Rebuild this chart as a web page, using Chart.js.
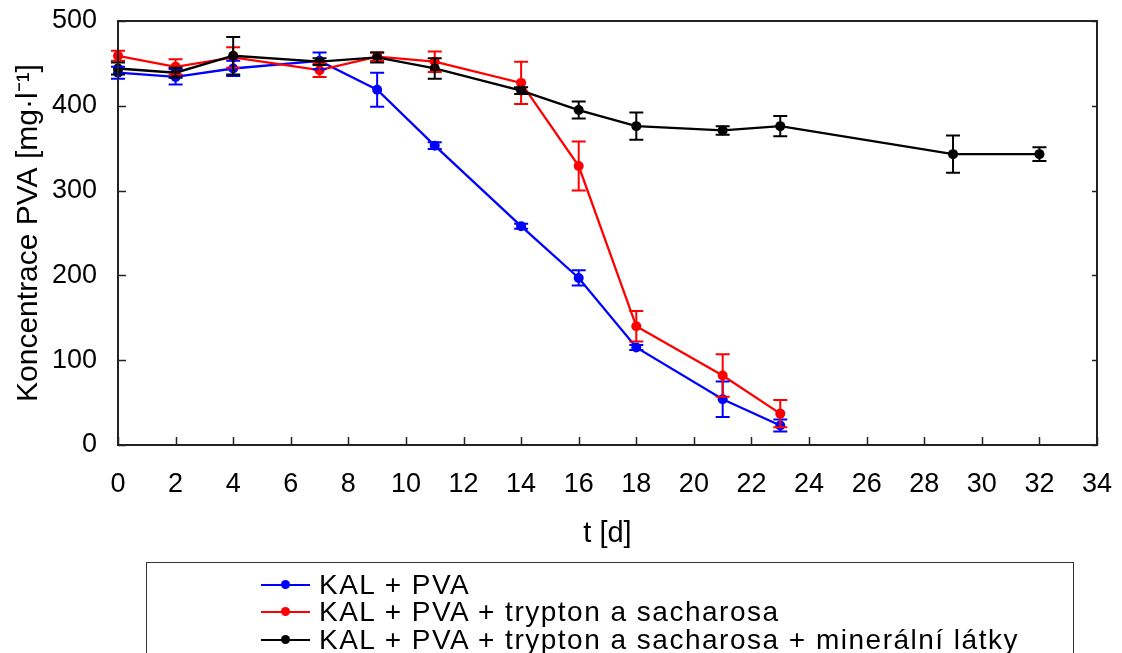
<!DOCTYPE html>
<html lang="cs">
<head>
<meta charset="UTF-8">
<title>Koncentrace PVA</title>
<script src="https://cdn.jsdelivr.net/npm/chart.js"></script>
<style>
  html, body { margin: 0; padding: 0; background: #fff; }
  .wrap { position: relative; width: 1122px; height: 653px; overflow: hidden; }
  .legend_box {
    position: absolute; left: 146px; top: 562px; width: 928px; height: 120px;
    border: 1px solid #333; box-sizing: border-box;
    font-family: 'Liberation Sans', Arial, sans-serif; font-size: 28px; letter-spacing: 1.5px; color: #000;
  }
  .legend_row { position: absolute; left: 114px; height: 28px; line-height: 28px; white-space: nowrap; }
  .swatch { position: absolute; left: 0; top: 13px; width: 49px; height: 2px; }
  .swatch i { position: absolute; left: 20px; top: -4px; width: 9px; height: 9px; border-radius: 50%; }
  .legend_row span.txt { position: absolute; left: 58px; top: 0; }
</style>
</head>
<body>
<div class="wrap">
  <canvas id="chart" width="1122" height="653"></canvas>
  <div class="legend_box" id="legend"></div>
</div>
<script>
// time points [d]
const tKal = [0, 2, 4, 7, 9, 11, 14, 16, 18, 21, 23];
const tTryp = [0, 2, 4, 7, 9, 11, 14, 16, 18, 21, 23];
const tMin = [0, 2, 4, 7, 9, 11, 14, 16, 18, 21, 23, 29, 32];

// PVA concentration [mg/l] and error (+/-)
const kal = [439, 434, 444, 453, 419, 353, 258, 197, 115, 54, 23];
const kalErr = [7, 9, 9, 10, 20, 4, 3, 9, 3, 21, 7];
const tryp = [459, 446, 457, 442, 458, 452, 427, 329, 140, 82, 37];
const trypErr = [6, 9, 12, 8, 5, 12, 25, 29, 18, 25, 16];
const minr = [444, 439, 459, 452, 457, 444, 418, 395, 376, 371, 376, 343, 343];
const minErr = [7, 6, 22, 4, 6, 12, 4, 10, 16, 5, 12, 22, 8];

const names = [
  'KAL + PVA',
  'KAL + PVA + trypton a sacharosa',
  'KAL + PVA + trypton a sacharosa + minerální látky'
];
const colors = ['#0000ff', '#ff0000', '#000000'];

const FONT = "'Liberation Sans', Arial, sans-serif";

function pts(xs, ys) {
  return xs.map((x, i) => ({ x: x, y: ys[i] }));
}

function noPad(s) {
  s.paddingTop = 0; s.paddingBottom = 0; s.paddingLeft = 0; s.paddingRight = 0;
}

// error bars + frame + inner ticks
const extras = {
  id: 'extras',
  afterDatasetsDraw(chart) {
    const ctx = chart.ctx;
    const ys = chart.scales.y;
    chart.data.datasets.forEach((ds, i) => {
      const meta = chart.getDatasetMeta(i);
      ctx.save();
      ctx.strokeStyle = ds.borderColor;
      ctx.lineWidth = 2;
      meta.data.forEach((p, j) => {
        const v = ds.data[j].y, e = ds.errors[j];
        const top = ys.getPixelForValue(v + e);
        const bot = ys.getPixelForValue(v - e);
        ctx.beginPath();
        ctx.moveTo(p.x, top); ctx.lineTo(p.x, bot);
        ctx.moveTo(p.x - 7, top); ctx.lineTo(p.x + 7, top);
        ctx.moveTo(p.x - 7, bot); ctx.lineTo(p.x + 7, bot);
        ctx.stroke();
      });
      ctx.restore();
    });
  },
  afterDraw(chart) {
    const ctx = chart.ctx;
    const a = chart.chartArea;
    const xs = chart.scales.x, ys = chart.scales.y;
    ctx.save();
    ctx.strokeStyle = '#222';
    ctx.lineWidth = 1.5;
    xs.ticks.forEach(t => {
      const px = Math.round(xs.getPixelForValue(t.value)) + 0.5;
      ctx.beginPath(); ctx.moveTo(px, a.bottom); ctx.lineTo(px, a.bottom - 8); ctx.stroke();
    });
    ys.ticks.forEach(t => {
      const py = Math.round(ys.getPixelForValue(t.value)) + 0.5;
      ctx.beginPath(); ctx.moveTo(a.left, py); ctx.lineTo(a.left + 8, py); ctx.stroke();
      ctx.beginPath(); ctx.moveTo(a.right, py); ctx.lineTo(a.right - 5, py); ctx.stroke();
    });
    ctx.lineWidth = 2;
    ctx.strokeRect(a.left, a.top, a.right - a.left, a.bottom - a.top);
    ctx.restore();
  }
};

const series = [
  { data: pts(tKal, kal), errors: kalErr, order: 3 },
  { data: pts(tTryp, tryp), errors: trypErr, order: 2 },
  { data: pts(tMin, minr), errors: minErr, order: 1 }
];

new Chart(document.getElementById('chart'), {
  type: 'line',
  data: {
    datasets: series.map((s, i) => ({
      label: names[i],
      data: s.data,
      errors: s.errors,
      order: s.order,
      borderColor: colors[i],
      backgroundColor: colors[i],
      borderWidth: 2.3,
      pointRadius: 5,
      pointBorderWidth: 0,
      tension: 0,
      clip: false
    }))
  },
  options: {
    responsive: false,
    animation: false,
    layout: { padding: { top: 21, right: 25, bottom: 102, left: 0 } },
    plugins: { legend: { display: false }, tooltip: { enabled: false } },
    scales: {
      x: {
        type: 'linear', min: 0, max: 34,
        afterFit: (s) => { s.height = 106; noPad(s); },
        grid: { display: false, drawTicks: false },
        border: { display: false },
        ticks: { stepSize: 2, padding: 23, color: '#000', font: { family: FONT, size: 27 } },
        title: { display: true, text: 't [d]', color: '#000', padding: { top: 0, bottom: 0 }, font: { family: FONT, size: 29 } }
      },
      y: {
        min: 0, max: 500,
        afterFit: (s) => { s.width = 118; noPad(s); },
        grid: { display: false, drawTicks: false },
        border: { display: false },
        ticks: { stepSize: 100, padding: 21, color: '#000', font: { family: FONT, size: 27 } },
        title: { display: true, text: 'Koncentrace PVA [mg·l⁻¹]', color: '#000', padding: { top: 11, bottom: 0 }, font: { family: FONT, size: 30 } }
      }
    }
  },
  plugins: [extras]
});

// legend rows
const legend = document.getElementById('legend');
const rowTops = [8, 35, 63];
names.forEach((n, i) => {
  const row = document.createElement('div');
  row.className = 'legend_row';
  row.style.top = rowTops[i] + 'px';
  row.innerHTML = '<span class="swatch" style="background:' + colors[i] + '"><i style="background:' + colors[i] + '"></i></span><span class="txt"></span>';
  row.querySelector('.txt').textContent = n;
  legend.appendChild(row);
});
</script>
</body>
</html>
